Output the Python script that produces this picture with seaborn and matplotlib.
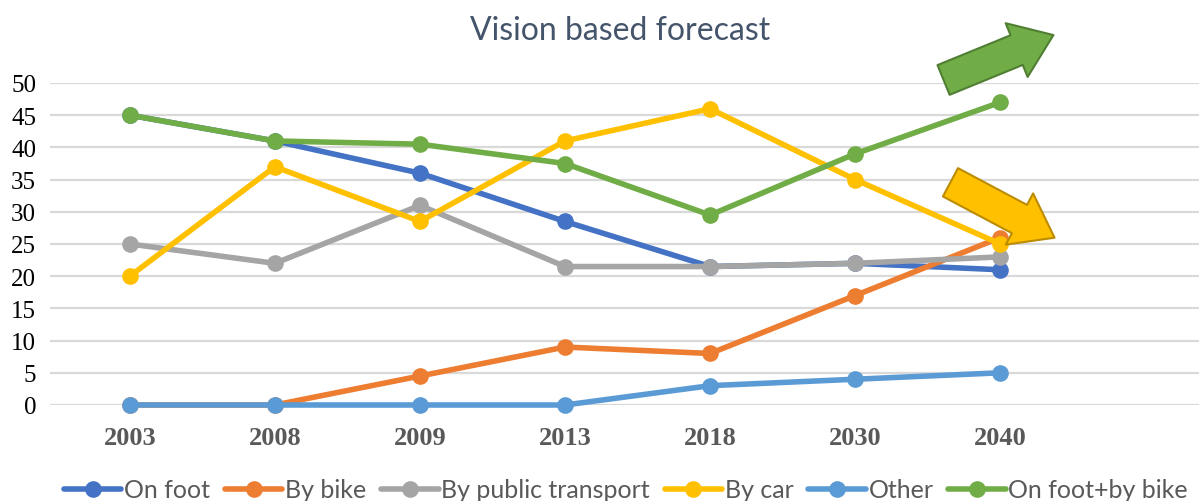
import numpy as np
import pandas as pd
import matplotlib
matplotlib.use("Agg")
import matplotlib.pyplot as plt
import seaborn as sns
from matplotlib.lines import Line2D
from matplotlib.patches import FancyArrowPatch

years = ["2003", "2008", "2009", "2013", "2018", "2030", "2040"]
on_foot = [45, 41, 36, 28.5, 21.5, 22, 21]
by_bike = [0, 0, 4.5, 9, 8, 17, 26]
public_transport = [25, 22, 31, 21.5, 21.5, 22, 23]
by_car = [20, 37, 28.5, 41, 46, 35, 25]
other = [0, 0, 0, 0, 3, 4, 5]
foot_bike = [45, 41, 40.5, 37.5, 29.5, 39, 47]

names = ["On foot", "By bike", "By public transport", "By car", "Other", "On foot+by bike"]
series = [on_foot, by_bike, public_transport, by_car, other, foot_bike]
colors = ["#4472C4", "#ED7D31", "#A5A5A5", "#FFC000", "#5B9BD5", "#70AD47"]

rows = []
for name, vals in zip(names, series):
    for i, v in enumerate(vals):
        rows.append({"pos": i, "value": v, "mode": name})
df = pd.DataFrame(rows)

sns.set_style("white")
fig = plt.figure(figsize=(11.99, 5.02), dpi=100)
ax = fig.add_axes([50 / 1199, 1 - 406 / 502, 1 - 50 / 1199, (406 - 84) / 502])

for name, col in zip(names, colors):
    sub = df[df["mode"] == name]
    sns.lineplot(data=sub, x="pos", y="value", color=col, lw=4, marker="o",
                 markersize=12, markeredgewidth=0, ax=ax, legend=False, clip_on=False)

ax.set_xlim(-0.55, 7.37)
ax.set_ylim(0, 50)
ax.set_yticks(np.arange(0, 51, 5))
ax.yaxis.grid(True, color="#D9D9D9", lw=1.6)
ax.set_axisbelow(True)
for s in ax.spines.values():
    s.set_visible(False)
ax.set_xticks(range(len(years)))
ax.set_xticklabels(years, family="Liberation Serif", fontsize=19, fontweight="bold", color="#595959")
ax.tick_params(axis="x", length=0, pad=15)
ax.tick_params(axis="y", length=0, pad=10)
for t in ax.get_yticklabels():
    t.set_family("Liberation Serif")
    t.set_fontsize(18)
    t.set_color("black")
ax.set_xlabel("")
ax.set_ylabel("")

fig.text(0.517, 0.938, "Vision based forecast", ha="center", va="center",
         fontsize=23, color="#44546A", family="Lato")

# block arrows (figure pixel coordinates)
def block_arrow(x0, y0, x1, y1, face, edge):
    p = FancyArrowPatch((x0 / 1199, 1 - y0 / 502), (x1 / 1199, 1 - y1 / 502),
                        transform=fig.transFigure,
                        arrowstyle="simple,head_length=1.3,head_width=1.9,tail_width=1.05",
                        mutation_scale=22, facecolor=face, edgecolor=edge, lw=1.5)
    fig.patches.append(p)

block_arrow(941, 82, 1056, 35, "#70AD47", "#507E32")
block_arrow(948, 182, 1057, 240, "#FFC000", "#BC8C00")

handles = [Line2D([], [], color=c, lw=4, marker="o", markersize=12, markeredgewidth=0)
           for c in colors]
fig.legend(handles, names, loc="center", bbox_to_anchor=(0.522, 0.022), ncol=6,
           frameon=False, handlelength=2.3, handletextpad=0.1, columnspacing=0.6,
           prop={"family": "Lato", "size": 18}, labelcolor="#595959")

fig.savefig("out.png", dpi=100)
